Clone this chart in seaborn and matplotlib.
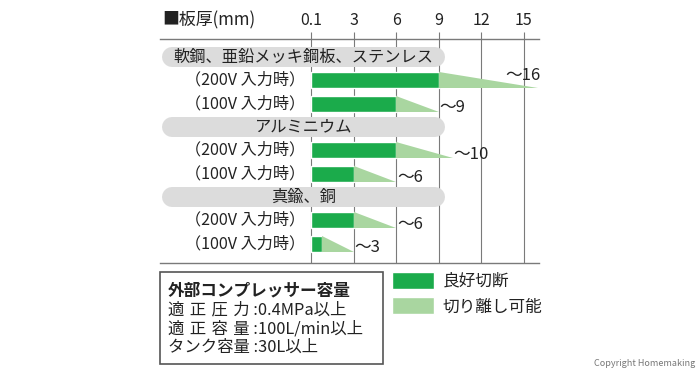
#!/usr/bin/env python3

import pandas as pd
import seaborn as sns
import matplotlib.pyplot as plt
from matplotlib.patches import Patch, Rectangle

# material groups and the two input voltages shown under each
groups = ["軟鋼、亜鉛メッキ鋼板、ステンレス", "アルミニウム", "真鍮、銅"]
inputs = ["（200V 入力時）", "（100V 入力時）"]
good_cut = [9, 6, 6, 3, 3, 0.8]     # 良好切断 (mm)
max_cut = [16, 9, 10, 6, 6, 3]      # 切り離し可能 (mm)
tick_vals = [0, 3, 6, 9, 12, 15]
tick_labels = ["0.1", "3", "6", "9", "12", "15"]
legend_labels = ["良好切断", "切り離し可能"]
spec_title = "外部コンプレッサー容量"
spec_lines = ["適\u2004正\u2004圧\u2004力 :0.4MPa以上",
              "適\u2004正\u2004容\u2004量 :100L/min以上",
              "タンク容量 :30L以上"]

DARK = "#1bab4b"
LIGHT = "#a9d6a0"
PILL = "#dcdcdc"
GRID = "#7a7a7a"
TXT = "#222222"
BAR_H = 0.686
PILL_X = (-9.8, 8.75)
W, H = 700, 374


def build_frame():
    rows = []
    for g in range(len(groups)):
        for k in range(len(inputs)):
            i = g * len(inputs) + k
            rows.append({"pos": g * 3 + 1 + k, "good": good_cut[i],
                         "max": max_cut[i], "label": inputs[k]})
    return pd.DataFrame(rows)


def main():
    d = build_frame()
    sns.set_style("white")
    plt.rcParams["font.family"] = ["Noto Sans CJK JP", "DejaVu Sans"]
    plt.rcParams["text.color"] = TXT

    fig = plt.figure(figsize=(W / 100, H / 100), dpi=100)
    ax = fig.add_axes([160 / W, 1 - 263 / H, 379 / W, 224 / H])

    # solid part = clean cut
    sns.barplot(data=d, x="good", y="pos", orient="h", native_scale=True,
                width=BAR_H, color=DARK, saturation=1, errorbar=None, ax=ax)

    # tapering part up to the max severing thickness
    for r in d.itertuples():
        top, bot = r.pos - BAR_H / 2, r.pos + BAR_H / 2
        ax.fill([r.good, r.good, r.max], [top, bot, bot],
                color=LIGHT, lw=0, zorder=1)
        if r.max > 14:
            ax.annotate(f"～{r.max:g}", xy=(r.max, r.pos), xytext=(1.5, 3.5),
                        textcoords="offset points", ha="right", va="center",
                        fontsize=12)
        else:
            ax.annotate(f"～{r.max:g}", xy=(r.max, r.pos), xytext=(0.5, -3),
                        textcoords="offset points", ha="left", va="center",
                        fontsize=12)
        ax.annotate(r.label, xy=(0, r.pos), xytext=(-4, 0),
                    textcoords="offset points", ha="right", va="center",
                    fontsize=11.6)

    # grey header pills
    for g, name in enumerate(groups):
        ax.plot(PILL_X, [g * 3, g * 3], lw=14.4, solid_capstyle="round",
                color=PILL, zorder=1.2)
        ax.text(sum(PILL_X) / 2, g * 3, name, ha="center", va="center",
                fontsize=11.7, zorder=3)

    ax.set_xlim((160 - 311) / 14.2, (539 - 311) / 14.2)
    ax.set_ylim(8.83, -0.77)
    ax.xaxis.tick_top()
    ax.set_xticks(tick_vals, tick_labels)
    ax.set_yticks([])
    ax.tick_params(axis="x", direction="out", length=5, width=0.8,
                   color=GRID, pad=2.5, labelsize=11.5, labelcolor=TXT)
    ax.grid(axis="x", color=GRID, lw=0.8)
    ax.grid(axis="y", visible=False)
    ax.set_axisbelow(True)
    ax.set(xlabel="", ylabel="")
    for s in ["left", "right"]:
        ax.spines[s].set_visible(False)
    for s in ["top", "bottom"]:
        ax.spines[s].set_color(GRID)
        ax.spines[s].set_linewidth(1)

    fig.text(162 / W, 1 - 20 / H, "■板厚(mm)", ha="left", va="center",
             fontsize=12.2)

    # compressor spec box
    fig.add_artist(Rectangle((160 / W, 1 - 364 / H), 223 / W, 92 / H,
                             transform=fig.transFigure, fill=False,
                             ec="#555555", lw=1.2))
    fig.text(168 / W, 1 - 290 / H, spec_title, ha="left", va="center",
             fontsize=12, fontweight="bold")
    for i, line in enumerate(spec_lines):
        fig.text(168 / W, 1 - (310 + 18.5 * i) / H, line, ha="left",
                 va="center", fontsize=11.8)

    fig.legend(handles=[Patch(fc=DARK), Patch(fc=LIGHT)], labels=legend_labels,
               loc="upper left", bbox_to_anchor=(392 / W, 1 - 272 / H),
               frameon=False, borderpad=0, borderaxespad=0, handlelength=2.5,
               handleheight=1.15, handletextpad=0.55, labelspacing=0.45,
               fontsize=12)

    fig.text(695 / W, 1 - 364 / H, "Copyright Homemaking", ha="right",
             va="center", fontsize=6.5, color="#777777")

    plt.savefig("out.png", dpi=100)


if __name__ == "__main__":
    main()
